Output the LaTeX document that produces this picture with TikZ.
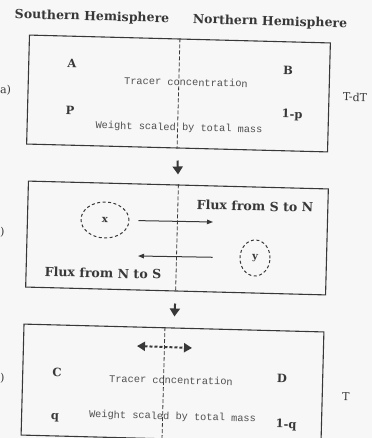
\documentclass[tikz,border=0pt]{standalone}
\usepackage{fontspec}
\setmainfont{DejaVu Serif}
\newfontfamily\monof{Liberation Mono}
\usetikzlibrary{arrows.meta,shapes.geometric,calc}
\definecolor{ink}{HTML}{383838}
\definecolor{softink}{HTML}{505050}
\definecolor{paper}{HTML}{F7F7F7}
\begin{document}
\begin{tikzpicture}[x=1pt,y=-1pt,
  panel/.style={draw=ink, line width=1.1pt, rectangle, rotate=-1.5, inner sep=0pt},
  title/.style={font=\fontsize{12.5}{14}\selectfont\bfseries, text=ink, rotate=-1.5, inner sep=0pt},
  lab/.style={font=\fontsize{11.5}{13}\selectfont\bfseries, text=ink, rotate=-1.5, inner sep=0pt},
  side/.style={font=\fontsize{11}{13}\selectfont, text=ink, rotate=-1.5, inner sep=0pt},
  mono/.style={font=\monof\fontsize{10.3}{12}\selectfont, text=softink, rotate=-1.5, inner sep=0pt},
  flux/.style={font=\fontsize{12.6}{14}\selectfont\bfseries, text=ink, rotate=-1.5, inner sep=0pt},
  divider/.style={draw=ink, line width=0.8pt, dash pattern=on 4pt off 2pt},
  bigarrow/.style={draw=ink, line width=2pt, -{Triangle[length=8pt,width=10pt]}},
  thinarrow/.style={draw=ink, line width=1pt, -{Triangle[length=6pt,width=4.5pt]}},
  twoarrow/.style={draw=ink, line width=2pt, dash pattern=on 3pt off 2pt, {Triangle[length=8pt,width=9pt]}-{Triangle[length=8pt,width=9pt]}},
  bubble/.style={draw=ink, ellipse, line width=1pt, dash pattern=on 3pt off 2.5pt, inner sep=0pt, rotate=-1.5, font=\fontsize{10}{12}\selectfont\bfseries, text=ink}
]
\fill[paper] (0,0) rectangle (372,438);
\useasboundingbox (0,0) rectangle (372,438);

% titles
\node[title] (sh) at (92,17) {Southern Hemisphere};
\node[title] (nh) at (270,22) {Northern Hemisphere};

% panels
\node[panel, minimum width=301pt, minimum height=109pt] (pa) at (178.5,93.5) {};
\node[panel, minimum width=300pt, minimum height=106pt] (pb) at (177,238) {};
\node[panel, minimum width=300pt, minimum height=111pt] (pc) at (172.5,383.5) {};

\draw[divider] (pa.north) -- (pa.south);
\draw[divider] (pb.north) -- (pb.south);
\draw[divider] ($(pc.north west)!0.47!(pc.north east)$) -- ($(pc.south west)!0.47!(pc.south east)$);

% panel a
\node[lab] (A) at (72,63) {A};
\node[lab] (B) at (288,70) {B};
\node[mono] (ta) at (186,82) {Tracer concentration};
\node[side, anchor=west] (la) at (0,90) {a)};
\node[side] (tdt) at (355,97) {T-dT};
\node[lab] (P) at (70,110) {P};
\node[lab] (onep) at (292,115) {1-p};
\node[mono] (wa) at (179,128) {Weight scaled by total mass};

% panel b
\node[bubble, minimum width=48pt, minimum height=36pt] (x) at (105,220) {x};
\node[flux] (fsn) at (255,206) {Flux from S to N};
\node[bubble, minimum width=30pt, minimum height=36pt] (y) at (255,258) {y};
\node[flux] (fns) at (103,273) {Flux from N to S};
\node[side, anchor=west] (lb) at (0,232) {)};
\coordinate (snend) at (213,222);
\coordinate (nsend) at (138,256);
\draw[thinarrow, shorten <=9pt] (x) -- (snend);
\draw[thinarrow, shorten <=27pt] (y) -- (nsend);

% panel c
\coordinate (dl) at (137,346);
\coordinate (dr) at (192,348);
\draw[twoarrow] (dl) -- (dr);
\node[lab] (C) at (57,372) {C};
\node[lab] (D) at (282,378) {D};
\node[mono] (tc) at (171,380) {Tracer concentration};
\node[side, anchor=west] (lc) at (0,378) {)};
\node[side] (T) at (346,397) {T};
\node[lab] (q) at (55,418) {q};
\node[mono] (wc) at (172.5,417) {Weight scaled by total mass};
\node[lab] (oneq) at (286,425) {1-q};

% step arrows
\draw[bigarrow, shorten <=12pt, shorten >=10pt] (pa.south) -- (pb.north);
\draw[bigarrow, shorten <=12pt, shorten >=11pt] (pb.south) -- (pc.north);
\end{tikzpicture}
\end{document}
